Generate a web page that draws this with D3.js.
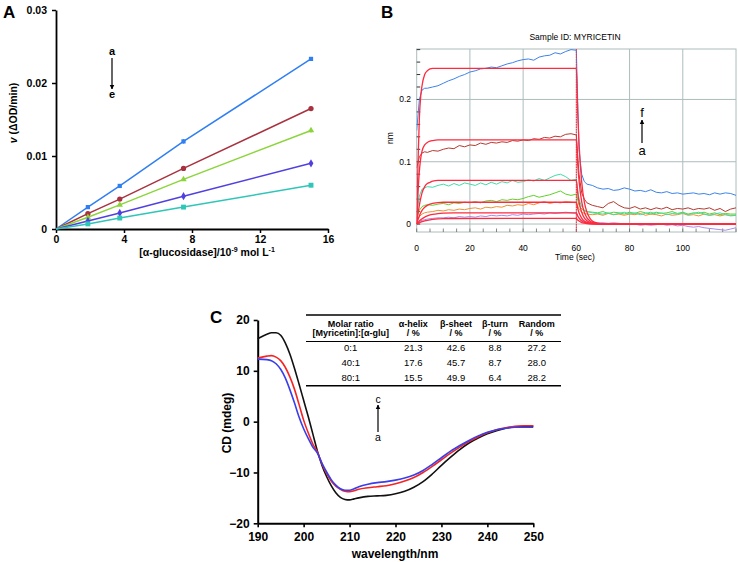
<!DOCTYPE html>
<html>
<head>
<meta charset="utf-8">
<script src="https://cdn.jsdelivr.net/npm/d3@7"></script>
<style>
body { margin: 0; background: #fff; }
text { font-family: 'Liberation Sans', Arial, sans-serif; }
</style>
</head>
<body>
<svg id="chart" width="738" height="562"></svg>
<script>
// ---------- Panel A data ----------
var aConc = [0, 1.875, 3.75, 7.5, 15];
var aRateA = [0, 0.0030, 0.0059, 0.0120, 0.0233];
var aRateB = [0, 0.0021, 0.0041, 0.0083, 0.0165];
var aRateC = [0, 0.0016, 0.0033, 0.0068, 0.0135];
var aRateD = [0, 0.0011, 0.0022, 0.0045, 0.0090];
var aRateE = [0, 0.0007, 0.0015, 0.0030, 0.0060];
var aErrA = [0, 0.0001, 0.0001, 0.0003, 0.0002];
var aErrB = [0, 0.0001, 0.0001, 0.0002, 0.0003];
var aErrC = [0, 0.0001, 0.0001, 0.0002, 0.0003];
var aErrD = [0, 0.0001, 0.0001, 0.0001, 0.0003];
var aErrE = [0, 0.0001, 0.0001, 0.0001, 0.0003];
var aTicksX = [0, 4, 8, 12, 16];
var aTicksY = [0, 0.01, 0.02, 0.03];

// ---------- Panel B data ----------
var bTime = [0,1,2,3,4, 6,8,10,12,14,16,18,20,22,24,26,28,30,32,34,36,38,40,42,44,46,48,50,52,54,56,58,
  60,61,62,63,64, 66,68,70,72,74,76,78,80,82,84,86,88,90,92,94,96,98,100,102,104,106,108,110,112,114,116,118,120];
var bSeriesF = [0.150,0.200,0.215,0.218,0.218,
  0.220,0.222,0.226,0.230,0.233,0.237,0.240,0.244,0.246,0.249,0.250,0.252,0.251,0.254,0.257,0.259,0.262,0.264,0.265,0.263,0.268,0.270,0.271,0.275,0.273,0.277,0.280,
  0.279,0.120,0.080,0.068,0.064,
  0.062,0.058,0.056,0.057,0.054,0.055,0.058,0.056,0.053,0.054,0.052,0.055,0.051,0.050,0.052,0.049,0.050,0.048,0.049,0.050,0.048,0.049,0.047,0.050,0.048,0.050,0.049,0.046];
var bSeriesE = [0.090,0.108,0.114,0.116,0.115,
  0.118,0.117,0.120,0.122,0.121,0.126,0.124,0.127,0.126,0.130,0.128,0.131,0.130,0.132,0.131,0.134,0.133,0.135,0.134,0.137,0.136,0.139,0.138,0.141,0.140,0.144,0.145,
  0.143,0.080,0.050,0.040,0.034,
  0.030,0.028,0.026,0.033,0.036,0.030,0.026,0.025,0.028,0.024,0.026,0.023,0.026,0.024,0.027,0.023,0.025,0.024,0.026,0.023,0.025,0.024,0.026,0.022,0.025,0.020,0.024,0.026];
var bSeriesD = [0.015,0.045,0.056,0.058,0.060,
  0.059,0.062,0.064,0.061,0.065,0.062,0.066,0.064,0.062,0.066,0.063,0.067,0.064,0.068,0.066,0.070,0.067,0.068,0.071,0.069,0.073,0.070,0.074,0.078,0.080,0.076,0.070,
  0.072,0.040,0.028,0.022,0.020,
  0.018,0.017,0.016,0.018,0.015,0.017,0.019,0.016,0.018,0.015,0.017,0.019,0.016,0.018,0.015,0.017,0.016,0.018,0.015,0.017,0.019,0.016,0.014,0.016,0.018,0.015,0.013,0.014];
var bSeriesC = [0.010,0.022,0.028,0.030,0.031,
  0.030,0.032,0.033,0.031,0.034,0.033,0.035,0.034,0.036,0.034,0.037,0.038,0.036,0.039,0.038,0.040,0.039,0.041,0.044,0.046,0.043,0.045,0.047,0.050,0.053,0.048,0.046,
  0.048,0.030,0.024,0.021,0.020,
  0.019,0.018,0.020,0.017,0.019,0.018,0.016,0.019,0.017,0.020,0.018,0.016,0.019,0.017,0.018,0.020,0.017,0.019,0.016,0.018,0.017,0.019,0.016,0.018,0.015,0.017,0.016,0.016];
var bSeriesB = [0.005,0.012,0.016,0.018,0.019,
  0.020,0.022,0.021,0.023,0.022,0.024,0.023,0.025,0.026,0.024,0.027,0.026,0.028,0.027,0.030,0.029,0.031,0.030,0.033,0.031,0.034,0.036,0.033,0.035,0.034,0.036,0.035,
  0.034,0.024,0.019,0.017,0.016,
  0.015,0.016,0.014,0.017,0.015,0.016,0.014,0.016,0.015,0.017,0.014,0.016,0.015,0.013,0.016,0.014,0.015,0.017,0.014,0.015,0.013,0.016,0.014,0.015,0.013,0.015,0.014,0.014];
var bSeriesA = [0.000,0.004,0.006,0.007,0.008,
  0.009,0.010,0.010,0.011,0.010,0.012,0.011,0.012,0.011,0.013,0.012,0.014,0.013,0.014,0.013,0.015,0.014,0.016,0.015,0.016,0.017,0.016,0.018,0.017,0.018,0.019,0.018,
  0.017,0.010,0.006,0.004,0.003,
  0.003,0.002,0.002,0.001,0.002,0.001,0.000,-0.001,0.000,-0.002,-0.001,-0.002,-0.001,0.000,-0.002,-0.001,-0.003,-0.002,-0.004,-0.005,-0.004,-0.006,-0.007,-0.008,-0.009,-0.010,-0.008,-0.006];

// fitted curves (red)
var fitTime = [0,0.5,1,1.5,2,3,4,5,6,8,10,14,60,60.5,61,62,63,64,65,66,68,70,74,120];
var fit1 = [0,0.10,0.17,0.205,0.222,0.240,0.246,0.249,0.250,0.250,0.250,0.250,0.250,0.180,0.130,0.068,0.035,0.019,0.010,0.005,0.0015,0.0004,0,0];
var fit2 = [0,0.05,0.085,0.105,0.117,0.127,0.131,0.133,0.134,0.135,0.135,0.135,0.135,0.097,0.070,0.036,0.019,0.010,0.0054,0.0027,0.0008,0.0002,0,0];
var fit3 = [0,0.017,0.030,0.041,0.050,0.060,0.065,0.067,0.069,0.070,0.070,0.070,0.070,0.050,0.036,0.019,0.0098,0.0053,0.0028,0.0014,0.0004,0.0001,0,0];
var fit4 = [0,0.007,0.013,0.018,0.022,0.027,0.030,0.032,0.033,0.0345,0.035,0.035,0.035,0.025,0.018,0.0095,0.0049,0.0026,0.0014,0.0007,0.0002,0,0,0];
var fit5 = [0,0.0025,0.0048,0.0068,0.0085,0.011,0.013,0.0145,0.0155,0.0168,0.0175,0.018,0.018,0.013,0.0094,0.0049,0.0025,0.0014,0.0007,0.0004,0.0001,0,0,0];
var fit6 = [0,0.001,0.002,0.0029,0.0037,0.005,0.006,0.0068,0.0074,0.0082,0.0086,0.0089,0.009,0.0065,0.0047,0.0024,0.0013,0.0007,0.0004,0.0002,0,0,0,0];
var bTicksX = [0, 20, 40, 60, 80, 100];
var bTicksY = [0, 0.1, 0.2];

// ---------- Panel C data ----------
var cWave = [190,192,193,194,195,196,197,198,199,200,201,202,203,204,205,206,207,208,209,210,211,212,
  214,216,218,220,222,224,226,228,230,232,234,236,238,240,242,244,246,248,250];
var cdA = [16.3,17.2,17.5,17.5,17.0,15.5,13.3,10.5,7.4,4.2,1.0,-2.4,-5.8,-8.6,-10.8,-12.6,-14.0,-14.9,-15.3,-15.4,-15.2,-15.0,
  -14.7,-14.6,-14.5,-14.2,-13.7,-12.9,-11.8,-10.3,-8.6,-7.0,-5.5,-4.2,-3.2,-2.4,-1.8,-1.3,-1.0,-0.9,-0.9];
var cdB = [12.5,12.9,13.0,12.7,12.0,10.7,8.8,6.4,3.4,0.3,-2.2,-4.4,-6.0,-8.3,-10.2,-11.7,-12.7,-13.3,-13.7,-13.8,-13.6,-13.3,
  -13.0,-12.8,-12.6,-12.2,-11.7,-11.0,-10.0,-8.8,-7.5,-6.2,-5.0,-3.9,-3.0,-2.2,-1.6,-1.2,-0.9,-0.8,-0.8];
var cdC = [12.3,12.2,12.0,11.4,10.3,8.6,6.3,3.7,0.9,-1.4,-3.3,-5.0,-6.2,-8.2,-9.9,-11.4,-12.5,-13.2,-13.5,-13.5,-13.2,-12.8,
  -12.3,-12.0,-11.8,-11.5,-11.1,-10.5,-9.6,-8.4,-7.1,-5.8,-4.7,-3.7,-2.8,-2.1,-1.6,-1.3,-1.1,-1.1,-1.1];
var cTicksX = [190, 200, 210, 220, 230, 240, 250];
var cTicksY = [-20, -10, 0, 10, 20];

// table
var tHead1 = ['Molar ratio', 'α-helix', 'β-sheet', 'β-turn', 'Random'];
var tHead2 = ['[Myricetin]:[α-glu]', '/ %', '/ %', '/ %', '/ %'];
var tRatio = ['0:1', '40:1', '80:1'];
var tHelix = [21.3, 17.6, 15.5];
var tSheet = [42.6, 45.7, 49.9];
var tTurn = [8.8, 8.7, 6.4];
var tRandom = [27.2, 28.0, 28.2];

var svg = d3.select('#chart');

// arrow head marker
var defs = svg.append('defs');
defs.append('marker')
    .attr('id', 'head')
    .attr('viewBox', '0 0 10 10')
    .attr('refX', 9).attr('refY', 5)
    .attr('markerWidth', 4).attr('markerHeight', 5)
    .attr('orient', 'auto')
  .append('path')
    .attr('d', 'M0,0L10,5L0,10Z')
    .attr('fill', '#000');

function zip(xs, ys) {
  return xs.map(function(x, i) { return {x: x, y: ys[i]}; });
}

// ================= Panel A =================
var ax = d3.scaleLinear().domain([0, 16]).range([56, 328]);
var ay = d3.scaleLinear().domain([0, 0.03]).range([229, 10]);
var gA = svg.append('g');

var aXAxis = gA.append('g')
    .attr('transform', 'translate(0,229)')
    .call(d3.axisBottom(ax).tickValues(aTicksX).tickSize(4).tickSizeOuter(0).tickPadding(3));
var aYAxis = gA.append('g')
    .attr('transform', 'translate(56,0)')
    .call(d3.axisLeft(ay).tickValues(aTicksY).tickSize(4).tickSizeOuter(0).tickPadding(5)
      .tickFormat(function(d) { return d === 0 ? '0' : d3.format('.2f')(d); }));
[aXAxis, aYAxis].forEach(function(g) {
  g.select('.domain').attr('stroke-width', 1.8);
  g.selectAll('.tick line').attr('stroke-width', 1.5);
  g.selectAll('text').attr('font-size', 10.5).attr('font-weight', 'bold')
    .attr('font-family', "'Liberation Sans', Arial, sans-serif");
});

var aSeries = [
  {vals: aRateA, err: aErrA, color: '#2f7ff2', sym: d3.symbolSquare, size: 18},
  {vals: aRateB, err: aErrB, color: '#a8313f', sym: d3.symbolCircle, size: 22},
  {vals: aRateC, err: aErrC, color: '#8bd43a', sym: d3.symbolTriangle, size: 18},
  {vals: aRateD, err: aErrD, color: '#5140e0', sym: d3.symbolDiamond, size: 20},
  {vals: aRateE, err: aErrE, color: '#2fc6b8', sym: d3.symbolSquare, size: 24}
];
var aLine = d3.line().x(function(d) { return ax(d.x); }).y(function(d) { return ay(d.y); });

aSeries.forEach(function(s) {
  var pts = zip(aConc, s.vals);
  gA.append('path')
      .attr('d', aLine(pts))
      .attr('fill', 'none')
      .attr('stroke', s.color)
      .attr('stroke-width', 1.5);
  // error bars + markers (no marker at origin)
  pts.slice(1).forEach(function(p, i) {
    var e = s.err[i + 1];
    gA.append('line')
        .attr('x1', ax(p.x)).attr('x2', ax(p.x))
        .attr('y1', ay(p.y - e)).attr('y2', ay(p.y + e))
        .attr('stroke', s.color).attr('stroke-width', 1);
    gA.append('path')
        .attr('d', d3.symbol().type(s.sym).size(s.size)())
        .attr('transform', 'translate(' + ax(p.x) + ',' + ay(p.y) + ')')
        .attr('fill', s.color);
  });
});

gA.append('text')
    .attr('x', 3).attr('y', 18)
    .attr('font-size', 17).attr('font-weight', 'bold')
    .text('A');

var aXLabel = gA.append('text')
    .attr('x', 207).attr('y', 256)
    .attr('text-anchor', 'middle')
    .attr('font-size', 10.5).attr('font-weight', 'bold');
aXLabel.append('tspan').text('[α-glucosidase]/10');
aXLabel.append('tspan').attr('dy', -4).attr('font-size', 7).text('-9');
aXLabel.append('tspan').attr('dy', 4).text(' mol L');
aXLabel.append('tspan').attr('dy', -4).attr('font-size', 7).text('-1');

var aYLabel = gA.append('text')
    .attr('transform', 'translate(17,113) rotate(-90)')
    .attr('text-anchor', 'middle')
    .attr('font-size', 10.5).attr('font-weight', 'bold');
aYLabel.append('tspan').attr('font-style', 'italic').text('v');
aYLabel.append('tspan').text(' (ΔOD/min)');

// a -> e arrow
gA.append('text').attr('x', 112).attr('y', 55).attr('text-anchor', 'middle')
    .attr('font-size', 11).attr('font-weight', 'bold').text('a');
gA.append('line').attr('x1', 112).attr('x2', 112).attr('y1', 58).attr('y2', 89)
    .attr('stroke', '#000').attr('stroke-width', 1.2).attr('marker-end', 'url(#head)');
gA.append('text').attr('x', 112).attr('y', 98).attr('text-anchor', 'middle')
    .attr('font-size', 11).attr('font-weight', 'bold').text('e');

// ================= Panel B =================
var bx = d3.scaleLinear().domain([0, 120]).range([416.7, 736]);
var by = d3.scaleLinear().domain([-0.0128, 0.281]).range([232, 49]);
var gB = svg.append('g');
var gridColor = '#adbcbc';

// vertical grid
gB.selectAll('.vgrid').data(bTicksX.slice(1))
  .enter().append('line')
    .attr('x1', function(d) { return bx(d); }).attr('x2', function(d) { return bx(d); })
    .attr('y1', by.range()[1]).attr('y2', by.range()[0])
    .attr('stroke', gridColor).attr('stroke-width', 1);
// horizontal grid
gB.selectAll('.hgrid').data(bTicksY)
  .enter().append('line')
    .attr('x1', bx.range()[0]).attr('x2', bx.range()[1])
    .attr('y1', function(d) { return by(d); }).attr('y2', function(d) { return by(d); })
    .attr('stroke', gridColor).attr('stroke-width', 1);
// frame
gB.append('rect')
    .attr('x', bx.range()[0]).attr('y', by.range()[1])
    .attr('width', bx.range()[1] - bx.range()[0])
    .attr('height', by.range()[0] - by.range()[1])
    .attr('fill', 'none').attr('stroke', gridColor).attr('stroke-width', 1);

// minor ticks inside the frame
gB.selectAll('.ytick').data(d3.range(0, 0.28, 0.02))
  .enter().append('line')
    .attr('x1', bx.range()[0]).attr('x2', bx.range()[0] + 3.5)
    .attr('y1', function(d) { return by(d); }).attr('y2', function(d) { return by(d); })
    .attr('stroke', '#333').attr('stroke-width', 1);
gB.selectAll('.xtick').data(d3.range(0, 121, 5))
  .enter().append('line')
    .attr('x1', function(d) { return bx(d); }).attr('x2', function(d) { return bx(d); })
    .attr('y1', by.range()[0]).attr('y2', by.range()[0] - 3.5)
    .attr('stroke', '#666').attr('stroke-width', 0.8);

// tick labels
gB.selectAll('.ylab').data(bTicksY)
  .enter().append('text')
    .attr('x', 411).attr('y', function(d) { return by(d); })
    .attr('dy', '0.35em').attr('text-anchor', 'end')
    .attr('font-size', 8.5)
    .text(function(d) { return d === 0 ? '0' : d3.format('.1f')(d); });
gB.selectAll('.xlab').data(bTicksX)
  .enter().append('text')
    .attr('x', function(d) { return bx(d); }).attr('y', 251)
    .attr('text-anchor', 'middle')
    .attr('font-size', 8.5)
    .text(function(d) { return d; });

gB.append('text').attr('x', 575).attr('y', 260).attr('text-anchor', 'middle')
    .attr('font-size', 8.5).text('Time (sec)');
gB.append('text').attr('transform', 'translate(393,138) rotate(-90)').attr('text-anchor', 'middle')
    .attr('font-size', 8.5).text('nm');
gB.append('text').attr('x', 575).attr('y', 40).attr('text-anchor', 'middle')
    .attr('font-size', 8.5).text('Sample ID: MYRICETIN');
gB.append('text').attr('x', 381).attr('y', 18)
    .attr('font-size', 17).attr('font-weight', 'bold').text('B');

defs.append('clipPath').attr('id', 'clipB')
  .append('rect')
    .attr('x', bx.range()[0]).attr('y', by.range()[1])
    .attr('width', bx.range()[1] - bx.range()[0])
    .attr('height', by.range()[0] - by.range()[1]);

var bLine = d3.line().x(function(d) { return bx(d.x); }).y(function(d) { return by(d.y); });
var fitLine = d3.line().curve(d3.curveMonotoneX)
    .x(function(d) { return bx(d.x); }).y(function(d) { return by(d.y); });

var bPlot = gB.append('g').attr('clip-path', 'url(#clipB)');
var bSeries = [
  {vals: bSeriesA, color: '#a98ae6'},
  {vals: bSeriesB, color: '#ec9234'},
  {vals: bSeriesC, color: '#5fd02a'},
  {vals: bSeriesD, color: '#3fdca8'},
  {vals: bSeriesE, color: '#b53a30'},
  {vals: bSeriesF, color: '#3d83ea'}
];
bSeries.forEach(function(s) {
  bPlot.append('path')
      .attr('d', bLine(zip(bTime, s.vals)))
      .attr('fill', 'none')
      .attr('stroke', s.color)
      .attr('stroke-width', 1);
});
[fit1, fit2, fit3, fit4, fit5, fit6].forEach(function(f) {
  bPlot.append('path')
      .attr('d', fitLine(zip(fitTime, f)))
      .attr('fill', 'none')
      .attr('stroke', '#ff2a3e')
      .attr('stroke-width', 1.3);
});
// dotted marker at end of association
bPlot.append('line')
    .attr('x1', bx(60)).attr('x2', bx(60))
    .attr('y1', by.range()[1]).attr('y2', by.range()[0])
    .attr('stroke', '#ff2a3e').attr('stroke-width', 1)
    .attr('stroke-dasharray', '1.5,1');

// a -> f arrow
gB.append('text').attr('x', 642).attr('y', 117).attr('text-anchor', 'middle')
    .attr('font-size', 13).text('f');
gB.append('line').attr('x1', 642).attr('x2', 642).attr('y1', 143).attr('y2', 120)
    .attr('stroke', '#000').attr('stroke-width', 1.2).attr('marker-end', 'url(#head)');
gB.append('text').attr('x', 642).attr('y', 155).attr('text-anchor', 'middle')
    .attr('font-size', 13).text('a');

// ================= Panel C =================
var cx = d3.scaleLinear().domain([190, 250]).range([257.7, 533.3]);
var cy = d3.scaleLinear().domain([-20, 20]).range([523.3, 320]);
var gC = svg.append('g');

var cXAxis = gC.append('g')
    .attr('transform', 'translate(0,523.3)')
    .call(d3.axisBottom(cx).tickValues(cTicksX).tickSize(4).tickSizeOuter(0).tickPadding(5));
var cYAxis = gC.append('g')
    .attr('transform', 'translate(257.7,0)')
    .call(d3.axisLeft(cy).tickValues(cTicksY).tickSize(4).tickSizeOuter(0).tickPadding(4));
[cXAxis, cYAxis].forEach(function(g) {
  g.select('.domain').attr('stroke-width', 2);
  g.selectAll('.tick line').attr('stroke-width', 1.6);
  g.selectAll('text').attr('font-size', 12).attr('font-weight', 'bold')
    .attr('font-family', "'Liberation Sans', Arial, sans-serif");
});

var cLine = d3.line().curve(d3.curveMonotoneX)
    .x(function(d) { return cx(d.x); }).y(function(d) { return cy(d.y); });
[{vals: cdA, color: '#111'}, {vals: cdB, color: '#f52424'}, {vals: cdC, color: '#3a3ee8'}].forEach(function(s) {
  gC.append('path')
      .attr('d', cLine(zip(cWave, s.vals)))
      .attr('fill', 'none')
      .attr('stroke', s.color)
      .attr('stroke-width', 1.6);
});

gC.append('text').attr('x', 395).attr('y', 558).attr('text-anchor', 'middle')
    .attr('font-size', 12).attr('font-weight', 'bold').text('wavelength/nm');
gC.append('text').attr('transform', 'translate(231,423) rotate(-90)').attr('text-anchor', 'middle')
    .attr('font-size', 12).attr('font-weight', 'bold').text('CD (mdeg)');
gC.append('text').attr('x', 210).attr('y', 323)
    .attr('font-size', 17).attr('font-weight', 'bold').text('C');

// a -> c arrow
gC.append('text').attr('x', 378).attr('y', 403).attr('text-anchor', 'middle')
    .attr('font-size', 10.5).text('c');
gC.append('line').attr('x1', 378).attr('x2', 378).attr('y1', 432).attr('y2', 405)
    .attr('stroke', '#000').attr('stroke-width', 1.2).attr('marker-end', 'url(#head)');
gC.append('text').attr('x', 378).attr('y', 441).attr('text-anchor', 'middle')
    .attr('font-size', 10.5).text('a');

// table
var colX = [350.7, 413.3, 456, 495, 536.7];
var tLeft = 306, tRight = 561;
[315, 341.5, 385.7].forEach(function(yy, i) {
  gC.append('line').attr('x1', tLeft).attr('x2', tRight).attr('y1', yy).attr('y2', yy)
      .attr('stroke', '#000').attr('stroke-width', i === 1 ? 1 : 1.5);
});
tHead1.forEach(function(h, i) {
  gC.append('text').attr('x', colX[i]).attr('y', 326.5).attr('text-anchor', 'middle')
      .attr('font-size', 9).attr('font-weight', 'bold').text(h);
  gC.append('text').attr('x', colX[i]).attr('y', 335.8).attr('text-anchor', 'middle')
      .attr('font-size', 9).attr('font-weight', 'bold').text(tHead2[i]);
});
var f1 = d3.format('.1f');
var rowY = [347.7, 362.7, 377.7];
tRatio.forEach(function(r, j) {
  var cells = [r, f1(tHelix[j]), f1(tSheet[j]), f1(tTurn[j]), f1(tRandom[j])];
  cells.forEach(function(c, i) {
    gC.append('text').attr('x', colX[i]).attr('y', rowY[j]).attr('dy', '0.35em')
        .attr('text-anchor', 'middle').attr('font-size', 9.5).text(c);
  });
});
</script>
</body>
</html>
